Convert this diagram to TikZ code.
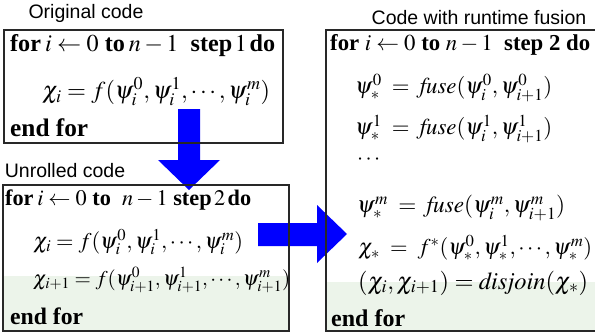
\documentclass[tikz,border=0pt]{standalone}
\usepackage{graphicx}
\usepackage{mathptmx}
\usepackage[no-math]{fontspec}
\setmainfont{Liberation Serif}
\newfontfamily\labelfont{Liberation Sans}
\definecolor{arrowblue}{RGB}{0,0,255}
\definecolor{tint}{RGB}{236,244,234}
\definecolor{boxline}{RGB}{40,40,40}
% set a line of code at a given width (in pt)
\newcommand\fitline[2]{\resizebox{#1pt}{!}{#2}}
\tikzset{
  codebox/.style={draw=boxline, line width=1.2pt},
  caption/.style={font=\labelfont\fontsize{19.5}{22}\selectfont, inner sep=0pt},
  codeline/.style={font=\fontsize{20}{24}\selectfont, anchor=west, inner sep=0pt},
  blockarrow/.style={fill=arrowblue, draw=none},
}
\begin{document}
\begin{tikzpicture}[x=1pt, y=-1pt]
\useasboundingbox (0,0) rectangle (595,332);

% pale tint at the foot of the two lower boxes
\fill[tint] (4,276) rectangle (289,331);
\fill[tint] (326,282) rectangle (595,331);

% block arrows: original -> unrolled, unrolled -> fused
\fill[blockarrow] (178,109) -- (200,109) -- (200,160) -- (220,160) -- (189,190)
  -- (158,160) -- (178,160) -- cycle;
\fill[blockarrow] (258,223) -- (317,223) -- (317,205) -- (347,234) -- (317,263)
  -- (317,246) -- (258,246) -- cycle;

% boxes
\draw[codebox] (4,30) rectangle (283,143);
\draw[codebox] (3,185) rectangle (289,331);
\draw[codebox] (600,30) -- (326,30) -- (326,331) -- (600,331);

% captions
\node[caption] (capOrig) at (86,13) {Original code};
\node[caption] (capUnr) at (65,171) {Unrolled code};
\node[caption] (capFus) at (479,18) {Code with runtime fusion};

% original loop
\node[codeline] (o1) at (10,46) {\fitline{265}{\textbf{for}\,$i \leftarrow 0$ \textbf{to}\,$n-1$\ \ \textbf{step}$\,1\,$\textbf{do}}};
\node[codeline] (o2) at (42,92) {\fitline{228}{$\chi_i = f(\psi_i^0,\psi_i^1,\cdots,\psi_i^m)$}};
\node[codeline] (o3) at (10,128) {\fitline{78}{\textbf{end for}}};

% unrolled loop
\node[codeline] (u1) at (5,200) {\fitline{246}{\textbf{for}\,$i \leftarrow 0$ \textbf{to}\ \ $n-1$\ \textbf{step}$\,2\,$\textbf{do}}};
\node[codeline] (u2) at (33,242) {\fitline{210}{$\chi_i = f(\psi_i^0,\psi_i^1,\cdots,\psi_i^m)$}};
\node[codeline] (u3) at (33,280) {\fitline{257}{$\chi_{i+1} = f(\psi_{i+1}^0,\psi_{i+1}^1,\cdots,\psi_{i+1}^m)$}};
\node[codeline] (u4) at (10,316) {\fitline{73}{\textbf{end for}}};

% loop with runtime fusion
\node[codeline] (f1) at (330,45) {\fitline{260}{\textbf{for} $i \leftarrow 0$ \textbf{to} $n-1$\ \ \textbf{step 2 do}}};
\node[codeline] (f2) at (355,88) {\fitline{197}{$\psi_*^0 \;=\; \mathit{fuse}(\psi_i^0,\psi_{i+1}^0)$}};
\node[codeline] (f3) at (355,129) {\fitline{197}{$\psi_*^1 \;=\; \mathit{fuse}(\psi_i^1,\psi_{i+1}^1)$}};
\node[codeline] (f4) at (357,160) {\fitline{23}{$\cdots$}};
\node[codeline] (f5) at (357,208) {\fitline{208}{$\psi_*^m \;=\; \mathit{fuse}(\psi_i^m,\psi_{i+1}^m)$}};
\node[codeline] (f6) at (358,248) {\fitline{234}{$\chi_* \;=\; f^*(\psi_*^0,\psi_*^1,\cdots,\psi_*^m)$}};
\node[codeline] (f7) at (358,283) {\fitline{230}{$(\chi_i,\chi_{i+1}) = \mathit{disjoin}(\chi_*)$}};
\node[codeline] (f8) at (331,318) {\fitline{74}{\textbf{end for}}};
\end{tikzpicture}
\end{document}
